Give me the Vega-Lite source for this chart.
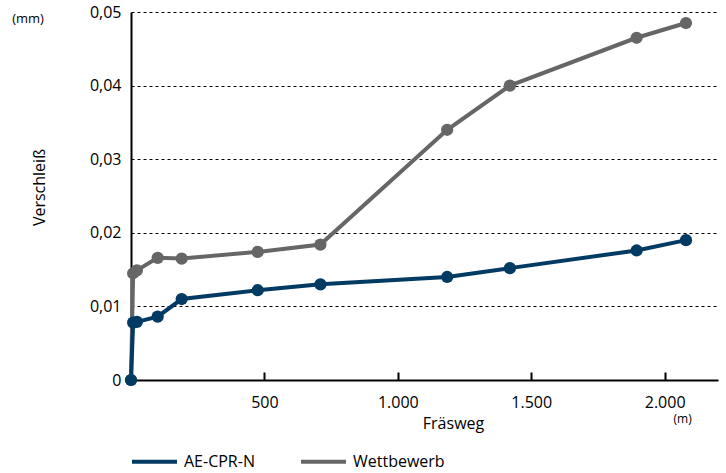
{
  "$schema": "https://vega.github.io/schema/vega-lite/v6.json",
  "width": 587,
  "height": 368,
  "autosize": {"type": "none"},
  "padding": {"left": 131, "top": 12, "right": 8, "bottom": 93},
  "config": {
    "view": {"stroke": null},
    "font": "Open Sans",
    "axis": {"labelColor": "black", "titleColor": "black", "labelFontSize": 16, "titleFontSize": 16, "titleFontWeight": "normal", "domainColor": "black", "domainWidth": 2}
  },
  "data": {
    "values": [
      {"serie": "Wettbewerb", "weg": 0, "verschleiss": 0},
      {"serie": "Wettbewerb", "weg": 8, "verschleiss": 0.0145},
      {"serie": "Wettbewerb", "weg": 22, "verschleiss": 0.0149},
      {"serie": "Wettbewerb", "weg": 100, "verschleiss": 0.0166},
      {"serie": "Wettbewerb", "weg": 190, "verschleiss": 0.0165},
      {"serie": "Wettbewerb", "weg": 475, "verschleiss": 0.0174},
      {"serie": "Wettbewerb", "weg": 710, "verschleiss": 0.0184},
      {"serie": "Wettbewerb", "weg": 1185, "verschleiss": 0.034},
      {"serie": "Wettbewerb", "weg": 1420, "verschleiss": 0.04},
      {"serie": "Wettbewerb", "weg": 1895, "verschleiss": 0.0465},
      {"serie": "Wettbewerb", "weg": 2080, "verschleiss": 0.0485},
      {"serie": "AE-CPR-N", "weg": 0, "verschleiss": 0},
      {"serie": "AE-CPR-N", "weg": 8, "verschleiss": 0.0078},
      {"serie": "AE-CPR-N", "weg": 22, "verschleiss": 0.0079},
      {"serie": "AE-CPR-N", "weg": 100, "verschleiss": 0.0086},
      {"serie": "AE-CPR-N", "weg": 190, "verschleiss": 0.011},
      {"serie": "AE-CPR-N", "weg": 475, "verschleiss": 0.0122},
      {"serie": "AE-CPR-N", "weg": 710, "verschleiss": 0.013},
      {"serie": "AE-CPR-N", "weg": 1185, "verschleiss": 0.014},
      {"serie": "AE-CPR-N", "weg": 1420, "verschleiss": 0.0152},
      {"serie": "AE-CPR-N", "weg": 1895, "verschleiss": 0.0176},
      {"serie": "AE-CPR-N", "weg": 2080, "verschleiss": 0.019}
    ]
  },
  "layer": [
    {
      "mark": {"type": "line", "strokeWidth": 4},
      "encoding": {
        "x": {
          "field": "weg", "type": "quantitative",
          "scale": {"domain": [0, 2200], "nice": false},
          "axis": {
            "values": [500, 1000, 1500, 2000],
            "labelExpr": "replace(format(datum.value, ','), ',', '.')",
            "grid": false,
            "tickColor": "black", "tickWidth": 2, "tickSize": -8,
            "labelPadding": 22,
            "title": "Fräsweg", "titleX": 322, "titleY": 43, "titleBaseline": "middle", "titleAlign": "center"
          }
        },
        "y": {
          "field": "verschleiss", "type": "quantitative",
          "scale": {"domain": [0, 0.05], "nice": false},
          "axis": {
            "values": [0, 0.01, 0.02, 0.03, 0.04, 0.05],
            "labelExpr": "datum.value == 0 ? '0' : replace(format(datum.value, '.2f'), '.', ',')",
            "ticks": false,
            "grid": true, "gridDash": [3, 3], "gridColor": "black", "gridWidth": 1, "gridOpacity": 1,
            "labelPadding": 10,
            "title": "Verschleiß", "titleX": -92, "titleY": 175, "titleAngle": -90, "titleBaseline": "middle", "titleAlign": "center"
          }
        },
        "color": {
          "field": "serie", "type": "nominal",
          "scale": {"domain": ["AE-CPR-N", "Wettbewerb"], "range": ["#013a63", "#666666"]},
          "legend": {
            "title": null, "orient": "none", "direction": "horizontal",
            "legendX": -1, "legendY": 425,
            "symbolType": "stroke", "symbolSize": 2025, "symbolStrokeWidth": 4,
            "labelFontSize": 16, "labelColor": "black", "labelOffset": 5, "columnPadding": 38
          }
        },
        "detail": {"field": "serie"}
      }
    },
    {
      "mark": {"type": "point", "filled": true, "size": 150, "opacity": 1},
      "encoding": {
        "x": {"field": "weg", "type": "quantitative"},
        "y": {"field": "verschleiss", "type": "quantitative"},
        "color": {"field": "serie", "type": "nominal", "legend": null}
      }
    },
    {
      "data": {"values": [{"note": "(mm)"}]},
      "mark": {"type": "text", "fontSize": 13, "color": "black", "align": "center", "baseline": "middle", "dx": -103, "dy": 7},
      "encoding": {
        "x": {"datum": 0, "type": "quantitative"},
        "y": {"datum": 0.05, "type": "quantitative"},
        "text": {"field": "note"}
      }
    },
    {
      "data": {"values": [{"note": "(m)"}]},
      "mark": {"type": "text", "fontSize": 12, "color": "black", "align": "center", "baseline": "middle", "dx": 18, "dy": 39},
      "encoding": {
        "x": {"datum": 2000, "type": "quantitative"},
        "y": {"datum": 0, "type": "quantitative"},
        "text": {"field": "note"}
      }
    }
  ]
}
